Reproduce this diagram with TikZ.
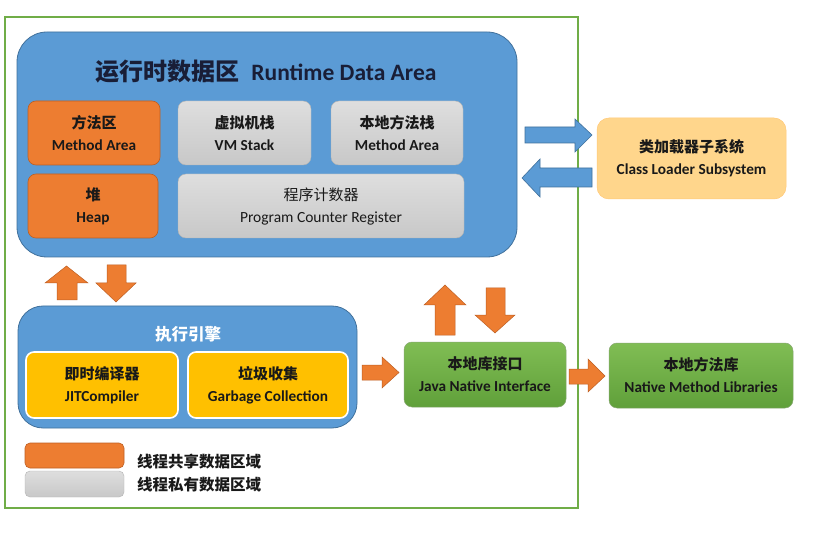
\documentclass[tikz,border=0pt]{standalone}
\usepackage{fontspec}
\setmainfont{Carlito}[BoldFont={Carlito Bold}]
\newfontfamily\cjk{Noto Sans CJK SC}
\definecolor{rdablue}{RGB}{91,155,213}
\definecolor{rdaedge}{RGB}{65,113,156}
\definecolor{orng}{RGB}{237,125,49}
\definecolor{orngedge}{RGB}{190,95,35}
\definecolor{grayA}{RGB}{222,222,222}
\definecolor{grayB}{RGB}{200,200,200}
\definecolor{yel}{RGB}{255,192,0}
\definecolor{grnA}{RGB}{128,189,84}
\definecolor{grnB}{RGB}{96,160,58}
\definecolor{grnedge}{RGB}{84,130,53}
\definecolor{frameg}{RGB}{112,173,71}
\definecolor{clsfill}{RGB}{255,214,140}
\definecolor{titlec}{RGB}{25,30,55}
\definecolor{txt}{RGB}{25,25,25}
\newcommand\zh[1]{{\cjk\fontsize{15}{22}\selectfont #1}}
\begin{document}
\begin{tikzpicture}[x=1pt,y=-1pt,
  box/.style={rounded corners=8pt, align=center, inner sep=0pt, text=txt,
    font=\bfseries\fontsize{15.3}{22}\selectfont},
  orangebox/.style={box, fill=orng, draw=orngedge, line width=0.6pt},
  graybox/.style={box, top color=grayA, bottom color=grayB, draw=grayB!90!black, line width=0.4pt},
  yelbox/.style={box, fill=yel, draw=white, line width=1.6pt},
  grnbox/.style={box, top color=grnA, bottom color=grnB, draw=grnedge!70, line width=0.5pt},
  bigblue/.style={fill=rdablue, draw=rdaedge, line width=0.8pt},
  oarrow/.style={fill=orng, draw=orngedge, line width=0.5pt},
  barrow/.style={fill=rdablue, draw=rdaedge, line width=0.6pt},
  legtext/.style={anchor=west, inner sep=0pt, text=txt, font=\cjk\bfseries\fontsize{15.5}{18}\selectfont}
]
\useasboundingbox (0,0) rectangle (829,534);
\fill[white] (0,0) rectangle (829,534);

% outer frame
\node[draw=frameg, line width=2.5pt, minimum width=573pt, minimum height=491pt, inner sep=0pt] (frame) at (291.5,262.5) {};

% runtime data area
\node[bigblue, rounded corners=30pt, minimum width=500pt, minimum height=225pt, inner sep=0pt] (rda) at (267,144.5) {};
\node[text=titlec, inner sep=0pt] (rdatitle) at (266,72)
  {{\cjk\bfseries\fontsize{24}{26}\selectfont 运行时数据区}\hspace{12pt}{\bfseries\fontsize{23.5}{26}\selectfont Runtime Data Area}};

\node[orangebox, minimum width=132pt, minimum height=64pt] (ma) at (94,133) {\zh{方法区}\\Method Area};
\node[orangebox, minimum width=130pt, minimum height=64pt] (heap) at (93,206) {\zh{堆}\\Heap};
\node[graybox, minimum width=133pt, minimum height=64pt] (vms) at (244.5,133) {\zh{虚拟机栈}\\VM Stack};
\node[graybox, minimum width=132pt, minimum height=64pt] (nms) at (397,133) {\zh{本地方法栈}\\Method Area};
\node[graybox, minimum width=286pt, minimum height=64pt, font=\fontsize{15.5}{22}\selectfont] (pc) at (321,206) {\zh{程序计数器}\\Program Counter Register};

% class loader
\node[box, fill=clsfill, draw=clsfill!85!orange, line width=0.5pt, rounded corners=12pt, minimum width=189pt, minimum height=81pt] (cls) at (691.5,158.5) {\zh{类加载器子系统}\\Class Loader Subsystem};

% blue arrows between rda and class loader
\draw[barrow] (525,127) -- (575,127) -- (575,119) -- (592,135) -- (575,152) -- (575,143) -- (525,143) -- cycle;
\draw[barrow] (592,168) -- (540,168) -- (540,159) -- (522,178) -- (540,197) -- (540,187) -- (592,187) -- cycle;

% execution engine
\node[bigblue, rounded corners=25pt, minimum width=339pt, minimum height=122pt, inner sep=0pt] (ee) at (187.5,367) {};
\node[text=white, inner sep=0pt, font=\cjk\bfseries\fontsize{16.5}{18}\selectfont] (eetitle) at (188,334) {执行引擎};
\node[yelbox, minimum width=152pt, minimum height=66pt] (jit) at (102,385) {\zh{即时编译器}\\JITCompiler};
\node[yelbox, minimum width=160pt, minimum height=66pt] (gc) at (268,385) {\zh{垃圾收集}\\Garbage Collection};

% orange arrows rda <-> ee
\draw[oarrow] (57,300) -- (57,283) -- (45,283) -- (66.5,266) -- (88,283) -- (77,283) -- (77,300) -- cycle;
\draw[oarrow] (107,265) -- (126,265) -- (126,283) -- (136,283) -- (116,302) -- (96,283) -- (107,283) -- cycle;

% JNI and native libs
\node[grnbox, minimum width=162pt, minimum height=65pt] (jni) at (485,374.5) {\zh{本地库接口}\\Java Native Interface};
\node[grnbox, minimum width=184pt, minimum height=65pt] (nml) at (701,375.5) {\zh{本地方法库}\\Native Method Libraries};

% arrows
\draw[oarrow] (362,365) -- (382,365) -- (382,357) -- (399,372.5) -- (382,388) -- (382,380) -- (362,380) -- cycle;
\draw[oarrow] (569,369) -- (588,369) -- (588,359) -- (605,376) -- (588,392) -- (588,384) -- (569,384) -- cycle;
\draw[oarrow] (435,335) -- (435,305) -- (424,305) -- (445,285) -- (466,305) -- (455,305) -- (455,335) -- cycle;
\draw[oarrow] (486,288) -- (505,288) -- (505,315) -- (515,315) -- (495,333) -- (475,315) -- (486,315) -- cycle;

% legend
\node[orangebox, rounded corners=5pt, minimum width=99pt, minimum height=25pt] (leg1) at (74.5,455.5) {};
\node[graybox, rounded corners=5pt, minimum width=99pt, minimum height=26pt] (leg2) at (74.5,484) {};
\node[legtext] (leg1t) at (137,462) {线程共享数据区域};
\node[legtext] (leg2t) at (137,485) {线程私有数据区域};
\end{tikzpicture}
\end{document}
